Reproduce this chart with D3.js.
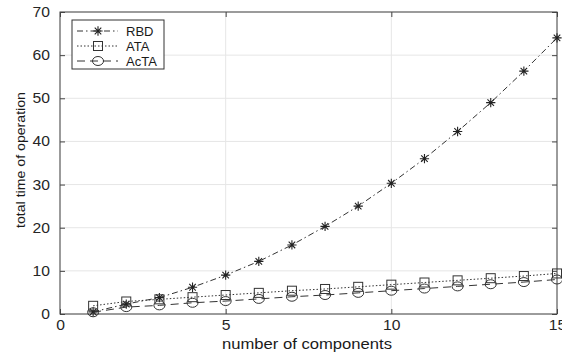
<!DOCTYPE html>
<html lang="en">
<head>
<meta charset="utf-8">
<title>total time of operation</title>
<script type="text/javascript" src="https://d3js.org/d3.v7.min.js"></script>
<style>
  body { margin: 0; background: #fff; }
  text { font-family: "Liberation Sans", Arial, sans-serif; }
</style>
</head>
<body>
<svg id="chart"></svg>
<script>
// data
var components = [1,2,3,4,5,6,7,8,9,10,11,12,13,14,15];
var rbd  = [0.5,2.3,3.8,6.2,9.0,12.2,16.0,20.3,25.0,30.3,36.0,42.3,49.0,56.3,64.0];
var ata  = [1.9,2.9,3.4,3.9,4.4,4.9,5.4,5.8,6.3,6.8,7.3,7.8,8.3,8.8,9.4];
var acta = [0.4,1.6,2.0,2.6,3.0,3.5,4.0,4.4,4.9,5.4,5.9,6.4,6.9,7.4,8.0];
var xTicks = [0,5,10,15];
var yTicks = [0,10,20,30,40,50,60,70];
var seriesNames = ["RBD","ATA","AcTA"];

var width = 562, height = 354;
var m = {left:60, right:5, top:12, bottom:40};

var svg = d3.select("#chart").attr("width",width).attr("height",height);

var x = d3.scaleLinear().domain([0,15]).range([m.left, width-m.right]);
var y = d3.scaleLinear().domain([0,70]).range([height-m.bottom, m.top]);

// the picture's text is a bit wider than the font, stretch it
function stretch(sel, f){
  sel.each(function(){
    var w = this.getComputedTextLength();
    d3.select(this).attr("textLength", w*f).attr("lengthAdjust","spacingAndGlyphs");
  });
}

// grid
svg.append("g").selectAll("line").data(xTicks).enter().append("line")
  .attr("x1",d=>x(d)).attr("x2",d=>x(d))
  .attr("y1",y(0)).attr("y2",y(70))
  .attr("stroke","#e6e6e6").attr("stroke-width",1);
svg.append("g").selectAll("line").data(yTicks).enter().append("line")
  .attr("x1",x(0)).attr("x2",x(15))
  .attr("y1",d=>y(d)).attr("y2",d=>y(d))
  .attr("stroke","#e6e6e6").attr("stroke-width",1);

// axes with inward ticks
function styleAxis(g){
  g.select(".domain").remove();
  g.selectAll("line").attr("stroke","#444");
  g.selectAll("text").attr("font-size","14px").attr("fill","#262626");
}
svg.append("g").attr("transform","translate(0,"+y(0)+")")
  .call(d3.axisBottom(x).tickValues(xTicks).tickSizeInner(-5).tickPadding(6))
  .call(styleAxis);
svg.append("g").attr("transform","translate("+x(0)+",0)")
  .call(d3.axisLeft(y).tickValues(yTicks).tickSizeInner(-5).tickPadding(10))
  .call(styleAxis);
svg.append("g").attr("transform","translate(0,"+y(70)+")")
  .call(d3.axisTop(x).tickValues(xTicks).tickSizeInner(-5).tickFormat(""))
  .call(styleAxis);
svg.append("g").attr("transform","translate("+x(15)+",0)")
  .call(d3.axisRight(y).tickValues(yTicks).tickSizeInner(-5).tickFormat(""))
  .call(styleAxis);
stretch(svg.selectAll(".tick text"), 1.12);

svg.append("rect")
  .attr("x",x(0)).attr("y",y(70))
  .attr("width",x(15)-x(0)).attr("height",y(0)-y(70))
  .attr("fill","none").attr("stroke","#444").attr("stroke-width",1);

// series
var dashes = {"RBD":"6,3,1.5,3", "ATA":"1.5,2", "AcTA":"8,5"};
var seriesData = {"RBD":rbd, "ATA":ata, "AcTA":acta};

var line = d3.line().x(d=>x(d[0])).y(d=>y(d[1]));

// custom asterisk symbol
var symbolAsterisk = {
  draw: function(ctx, size){
    var r = Math.sqrt(size)/1.6;
    for(var k=0;k<4;k++){
      var a = k*Math.PI/4;
      ctx.moveTo(-r*Math.cos(a), -r*Math.sin(a));
      ctx.lineTo(r*Math.cos(a), r*Math.sin(a));
    }
  }
};

function drawMarker(g, name, cx, cy){
  if(name==="RBD"){
    g.append("path").attr("d",d3.symbol().type(symbolAsterisk).size(55)())
      .attr("transform","translate("+cx+","+cy+")")
      .attr("fill","none").attr("stroke","#222").attr("stroke-width",1.1);
  } else if(name==="ATA"){
    g.append("rect").attr("x",cx-4.5).attr("y",cy-4.5).attr("width",9).attr("height",9)
      .attr("fill","none").attr("stroke","#333").attr("stroke-width",1);
  } else {
    g.append("ellipse").attr("cx",cx).attr("cy",cy).attr("rx",5.5).attr("ry",4.5)
      .attr("fill","none").attr("stroke","#333").attr("stroke-width",1);
  }
}

seriesNames.forEach(function(name){
  var pts = components.map((c,i)=>[c, seriesData[name][i]]);
  svg.append("path").datum(pts)
    .attr("d",line).attr("fill","none")
    .attr("stroke","#333").attr("stroke-width",1)
    .attr("stroke-dasharray",dashes[name]);
  var g = svg.append("g");
  pts.forEach(p=>drawMarker(g, name, x(p[0]), y(p[1])));
});

// legend
var lg = svg.append("g");
lg.append("rect").attr("x",72).attr("y",20).attr("width",92).attr("height",49)
  .attr("fill","#fff").attr("stroke","#333").attr("stroke-width",1);
seriesNames.forEach(function(name,i){
  var ly = 31 + i*15;
  lg.append("line").attr("x1",77).attr("x2",118).attr("y1",ly).attr("y2",ly)
    .attr("stroke","#333").attr("stroke-dasharray",dashes[name]);
  drawMarker(lg, name, 98, ly);
  lg.append("text").attr("x",126).attr("y",ly+5).text(name)
    .attr("font-size","13px").attr("fill","#1a1a1a");
});

// axis labels
svg.append("text").attr("x",307).attr("y",349)
  .attr("text-anchor","middle").attr("font-size","14px").attr("fill","#1a1a1a")
  .text("number of components")
  .attr("textLength",170).attr("lengthAdjust","spacingAndGlyphs");
svg.append("text").attr("transform","translate(25,160) rotate(-90)")
  .attr("text-anchor","middle").attr("font-size","13px").attr("fill","#1a1a1a")
  .text("total time of operation")
  .attr("textLength",136).attr("lengthAdjust","spacingAndGlyphs");
</script>
</body>
</html>
